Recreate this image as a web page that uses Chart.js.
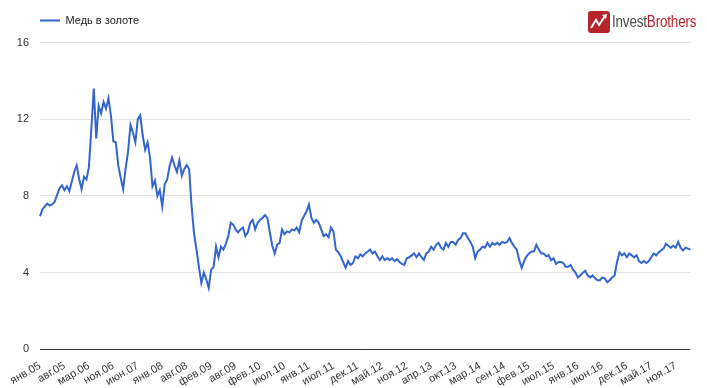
<!DOCTYPE html>
<html>
<head>
<meta charset="utf-8">
<script src="https://cdn.jsdelivr.net/npm/chart.js@4.4.1/dist/chart.umd.min.js"></script>
<style>
  html, body { margin: 0; padding: 0; background: #fff; }
  #wrap { position: relative; width: 707px; height: 388px; }
  #logo { position: absolute; left: 588px; top: 11px; height: 22px; display: flex; align-items: center; }
  #logo .txt { font-family: "Liberation Sans", Arial, sans-serif; font-size: 16px; white-space: nowrap;
    transform: scaleX(0.84); transform-origin: left center; margin-left: 2px; letter-spacing: -0.2px; }
  #logo .a { color: #4a4a4a; }
  #logo .b { color: #b5262b; }
</style>
</head>
<body>
<div id="wrap">
  <canvas id="c" width="707" height="388"></canvas>
  <div id="logo">
    <svg width="22" height="22" viewBox="0 0 22 22">
      <rect x="0" y="0" width="22" height="22" rx="3" fill="#b5262b"/>
      <polyline points="3,17 8,9 11,14 17,5" fill="none" stroke="#fff" stroke-width="2"/>
      <polygon points="14,4 19,3 18,8" fill="#fff"/>
    </svg>
    <span class="txt"><span class="a">Invest</span><span class="b">Brothers</span></span>
  </div>
</div>
<script>
const seriesName = "Медь в золоте";
const tickLabels = ["янв.05","авг.05","мар.06","ноя.06","июн.07","янв.08","авг.08","фев.09","авг.09","фев.10","июл.10","янв.11","июл.11","дек.11","май.12","ноя.12","апр.13","окт.13","мар.14","сен.14","фев.15","июл.15","янв.16","июн.16","дек.16","май.17","ноя.17"];
const pointsPerTick = 10;
const yTicks = [0, 4, 8, 12, 16];
const values = [
  6.94,7.3,7.45,7.6,7.5,7.55,7.7,8.05,8.4,8.55,
  8.3,8.5,8.25,8.75,9.25,9.6,8.9,8.35,9.0,8.85,
  9.5,11.5,13.6,11.0,12.7,12.3,12.9,12.55,13.1,12.2,
  10.85,10.8,9.6,8.95,8.35,9.4,10.3,11.7,11.3,10.8,
  12.0,12.2,11.15,10.4,10.8,10.0,8.5,8.8,8.0,8.3,
  7.45,8.6,8.85,9.55,10.0,9.6,9.25,9.85,9.05,9.4,
  9.6,9.4,7.45,6.05,5.2,4.3,3.46,4.0,3.65,3.2,
  4.15,4.3,5.35,4.8,5.35,5.2,5.5,5.9,6.6,6.5,
  6.25,6.1,6.25,6.35,5.9,6.1,6.6,6.75,6.25,6.6,
  6.75,6.85,7.0,6.85,6.1,5.4,5.0,5.45,5.55,6.25,
  6.0,6.15,6.1,6.25,6.2,6.35,6.1,6.7,6.95,7.2,
  7.55,6.85,6.6,6.75,6.6,6.25,5.9,6.0,5.85,6.35,
  6.15,5.2,5.05,4.85,4.55,4.25,4.6,4.4,4.5,4.85,
  4.75,4.95,4.85,5.0,5.1,5.2,5.0,5.1,4.85,4.65,
  4.85,4.65,4.75,4.65,4.75,4.6,4.7,4.55,4.45,4.4,
  4.75,4.8,4.9,5.0,4.8,5.0,4.8,4.65,5.0,5.1,
  5.35,5.2,5.45,5.55,5.3,5.2,5.55,5.35,5.6,5.6,
  5.45,5.7,5.8,6.05,6.05,5.8,5.6,5.35,4.75,5.1,
  5.2,5.35,5.3,5.55,5.35,5.55,5.45,5.55,5.45,5.6,
  5.55,5.6,5.8,5.55,5.35,5.2,4.65,4.25,4.6,4.85,
  5.0,5.1,5.1,5.45,5.2,5.0,5.0,4.85,4.9,4.65,
  4.75,4.45,4.55,4.55,4.5,4.3,4.3,4.4,4.15,4.0,
  3.75,3.85,4.0,4.1,3.85,3.75,3.85,3.7,3.6,3.6,
  3.75,3.7,3.5,3.6,3.75,3.85,4.55,5.05,4.9,5.0,
  4.8,5.0,4.9,4.8,4.9,4.6,4.5,4.6,4.5,4.6,
  4.8,5.0,4.9,5.05,5.15,5.25,5.5,5.4,5.3,5.4,
  5.3,5.6,5.3,5.15,5.3,5.25,5.2
];

const labels = values.map((_, i) => (i % pointsPerTick === 0 && tickLabels[i / pointsPerTick]) ? tickLabels[i / pointsPerTick] : '');

const legendPatch = {
  id: 'legendPatch',
  afterInit(chart) {
    const lg = chart.legend;
    if (lg && !lg._patched) {
      const f = lg.fit.bind(lg);
      lg.fit = function () { f(); this.height += 6.5; };
      lg._patched = true;
    }
  },
  afterLayout(chart) {
    const lg = chart.legend;
    if (lg) { lg.left += 30; lg.right += 30; }
  }
};

const FONT = "'Liberation Sans', Arial, sans-serif";
Chart.defaults.font.family = FONT;

new Chart(document.getElementById('c'), {
  type: 'line',
  data: {
    labels: labels,
    datasets: [{
      label: seriesName,
      data: values,
      borderColor: '#3366cc',
      backgroundColor: '#3366cc',
      borderWidth: 2,
      pointRadius: 0,
      tension: 0,
      fill: false
    }]
  },
  options: {
    responsive: false,
    animation: false,
    layout: { padding: { left: 0, right: 15, top: 5, bottom: 0 } },
    plugins: {
      tooltip: { enabled: false },
      legend: {
        display: true,
        position: 'top',
        align: 'start',
        labels: {
          boxWidth: 20,
          boxHeight: 2,
          padding: 10,
          color: '#222',
          font: { size: 11, family: FONT },
          generateLabels(chart) {
            return chart.data.datasets.map((ds, i) => ({
              text: ds.label, fillStyle: ds.borderColor, strokeStyle: ds.borderColor,
              lineWidth: 0, hidden: false, datasetIndex: i, fontColor: '#222'
            }));
          }
        }
      }
    },
    scales: {
      x: {
        type: 'category',
        offset: false,
        grid: { display: false, drawTicks: false },
        border: { display: false },
        afterFit(scale) { scale.height = 38.7; },
        ticks: {
          autoSkip: false,
          minRotation: 30,
          maxRotation: 30,
          padding: 10,
          color: '#333',
          font: { size: 11, family: FONT },
          callback(v, i) { return labels[i]; }
        }
      },
      y: {
        min: yTicks[0],
        max: yTicks[yTicks.length - 1],
        afterFit(scale) { scale.width = 40; },
        grid: {
          drawTicks: false,
          color: (ctx) => ctx.tick && ctx.tick.value === 0 ? '#333333' : '#e3e3e3',
          lineWidth: 1
        },
        border: { display: false },
        ticks: {
          stepSize: yTicks[1] - yTicks[0],
          autoSkip: false,
          padding: 11,
          color: '#333',
          font: { size: 11, family: FONT },
          callback(v) { return yTicks.includes(v) ? String(v) : ''; }
        }
      }
    }
  },
  plugins: [legendPatch]
});
</script>
</body>
</html>
